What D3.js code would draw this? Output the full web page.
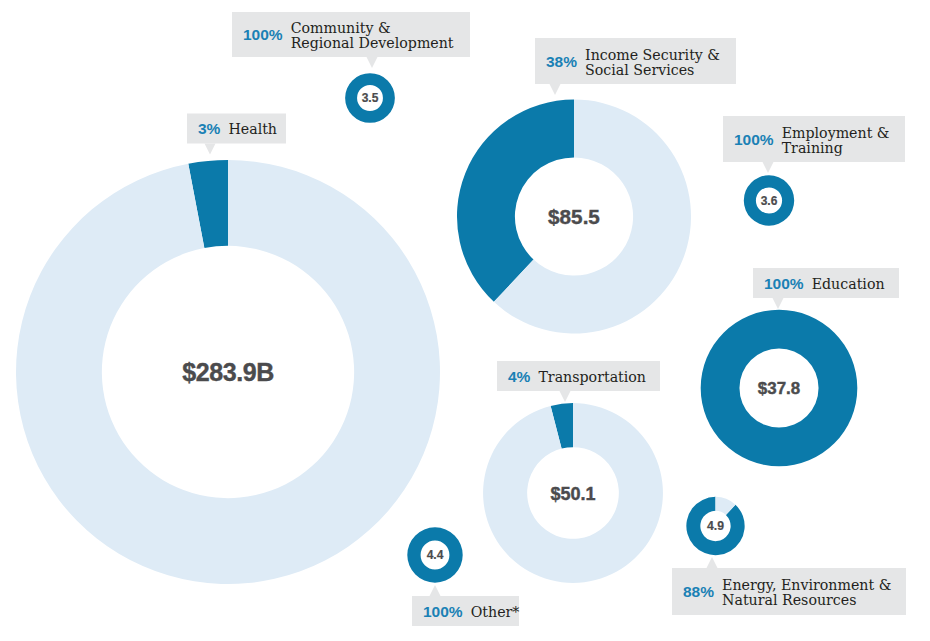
<!DOCTYPE html>
<html>
<head>
<meta charset="utf-8">
<script src="https://cdn.jsdelivr.net/npm/d3@7"></script>
<style>
  html, body { margin: 0; padding: 0; background: #ffffff; }
  svg { display: block; }
</style>
</head>
<body>
<svg id="chart" width="930" height="641"></svg>
<script>
// ---- Data ----
const categories = [
  "Health",
  "Community &\nRegional Development",
  "Income Security &\nSocial Services",
  "Employment &\nTraining",
  "Education",
  "Transportation",
  "Other*",
  "Energy, Environment &\nNatural Resources"
];
const totals = [283.9, 3.5, 85.5, 3.6, 37.8, 50.1, 4.4, 4.9];      // $ billions
const shares = [3, 100, 38, 100, 100, 4, 100, 88];                  // percent
const valueLabels = ["$283.9B", "3.5", "$85.5", "3.6", "$37.8", "$50.1", "4.4", "4.9"];

// ---- Layout (positions / styles) ----
const layout = [
  { cx: 228,   cy: 372,   hole: 0.595, box: [187, 113.5, 286, 143.5], ptr: 210, side: "top" },
  { cx: 370,   cy: 98,    hole: 0.52,  box: [232, 12, 470, 57],       ptr: 372, side: "top" },
  { cx: 574,   cy: 216.5, hole: 0.505, box: [535, 38, 736, 84],       ptr: 555, side: "top" },
  { cx: 769,   cy: 200.5, hole: 0.52,  box: [723, 116, 905, 162],     ptr: 768, side: "top" },
  { cx: 779,   cy: 388,   hole: 0.505, box: [753, 268, 899, 298],     ptr: 778, side: "top" },
  { cx: 573,   cy: 493,   hole: 0.51,  box: [497, 361, 660, 391],     ptr: 565, side: "top" },
  { cx: 435,   cy: 555,   hole: 0.52,  box: [412, 596, 519, 626],     ptr: 435, side: "bottom" },
  { cx: 715.5, cy: 526,   hole: 0.52,  box: [672, 568, 906, 615],     ptr: 712, side: "bottom" }
];

const DARK = "#0b7aaa";
const LIGHT = "#deebf6";
const BOX = "#e5e6e7";
const PCT = "#1a81b5";
const VAL = "#4b4b4d";
const TXT = "#231f20";

const svg = d3.select("#chart");

const rScale = d3.scaleSqrt().domain([0, d3.max(totals)]).range([1.5, 212]);
const fScale = d3.scaleLinear().domain([27, 77, 118, 212]).range([12, 16.8, 20.8, 25]).clamp(true);

const data = categories.map((c, i) => ({
  name: c, total: totals[i], share: shares[i], label: valueLabels[i], L: layout[i]
}));

// ---- Label boxes ----
const labels = svg.append("g").selectAll("g").data(data).join("g");

labels.each(function(d) {
  const g = d3.select(this);
  const [x0, y0, x1, y1] = d.L.box;
  g.append("rect").attr("x", x0).attr("y", y0).attr("width", x1 - x0).attr("height", y1 - y0).attr("fill", BOX);
  const px = d.L.ptr;
  let pts;
  if (d.L.side === "top") pts = [[px - 5.5, y1], [px + 5.5, y1], [px, y1 + 11]];
  else pts = [[px - 5.5, y0], [px + 5.5, y0], [px, y0 - 11]];
  g.append("path").attr("d", d3.line()(pts) + "Z").attr("fill", BOX);

  const cy = (y0 + y1) / 2;
  const pct = g.append("text")
    .attr("x", x0 + 11).attr("y", cy + 5.5)
    .attr("font-family", "'Liberation Sans', Arial, sans-serif")
    .attr("font-weight", "bold").attr("font-size", 15.5)
    .attr("fill", PCT)
    .text(d.share + "%");
  const pw = pct.node().getComputedTextLength();
  const lines = d.name.split("\n");
  const t = g.append("text")
    .attr("font-family", "'DejaVu Serif', serif")
    .attr("font-size", 14.2)
    .attr("fill", TXT);
  const nx = x0 + 11 + pw + 8;
  if (lines.length === 1) {
    t.append("tspan").attr("x", nx).attr("y", cy + 5.5).text(lines[0]);
  } else {
    t.append("tspan").attr("x", nx).attr("y", cy - 1.5).text(lines[0]);
    t.append("tspan").attr("x", nx).attr("y", cy + 13.5).text(lines[1]);
  }
});

// ---- Donuts ----
const donuts = svg.append("g").selectAll("g").data(data).join("g")
  .attr("transform", d => `translate(${d.L.cx},${d.L.cy})`);

donuts.each(function(d) {
  const g = d3.select(this);
  const r = rScale(d.total);
  const p = d.share / 100;
  const pie = d3.pie().sort(null).value(v => v.v)
    .startAngle(-2 * Math.PI * p).endAngle(2 * Math.PI - 2 * Math.PI * p);
  const arcs = pie([{ v: p, c: DARK }, { v: 1 - p, c: LIGHT }]);
  const arc = d3.arc().innerRadius(r * d.L.hole).outerRadius(r);
  g.selectAll("path").data(arcs.filter(a => a.data.v > 0)).join("path")
    .attr("d", arc).attr("fill", a => a.data.c);
  const fs = fScale(r);
  g.append("text")
    .attr("text-anchor", "middle")
    .attr("dy", "0.36em")
    .attr("font-family", "'Liberation Sans', Arial, sans-serif")
    .attr("font-weight", "bold")
    .attr("font-size", fs)
    .attr("letter-spacing", fs > 22 ? -0.4 : 0)
    .attr("fill", VAL)
    .attr("stroke", VAL)
    .attr("stroke-width", fs > 15 ? 0.4 : 0.2)
    .text(d.label);
});
</script>
</body>
</html>
